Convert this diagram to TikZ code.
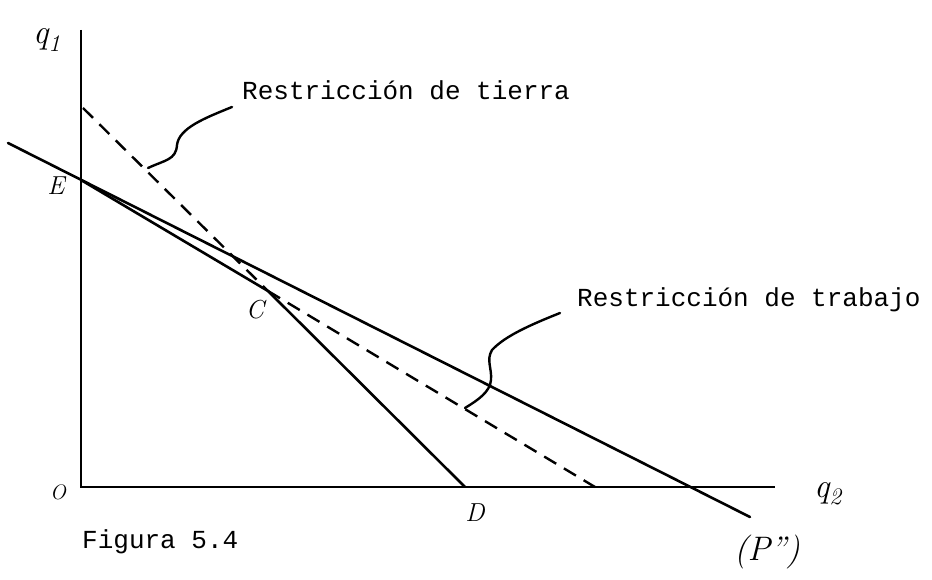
\documentclass[tikz,border=0pt]{standalone}
\usepackage{fontspec}
\newfontfamily\typew{Liberation Mono}
\usetikzlibrary{positioning, calc}

\begin{document}
\begin{tikzpicture}[
    x=1pt, y=-1pt,
    axis/.style={line width=2pt},
    frontier/.style={line width=2.6pt, line cap=round, line join=round},
    constr/.style={line width=2.4pt, dash pattern=on 14pt off 9pt},
    leader/.style={line width=2.4pt, line cap=round},
    hand/.style={font=\fontsize{26}{26}\selectfont\itshape, inner sep=0pt},
    bighand/.style={font=\fontsize{34}{34}\selectfont\itshape, inner sep=0pt},
    typed/.style={font=\typew\fontsize{26}{28}\selectfont, inner sep=0pt},
]
\useasboundingbox (0,0) rectangle (932,580);

% --- Axes ---------------------------------------------------
\coordinate (O) at (81,487);
\coordinate (ytop) at (81,30);
\coordinate (xend) at (775,487);
\draw[axis] (ytop) -- (O) -- (xend);
\node[bighand] (q1) at (47,40) {q\textsubscript{1}};
\node[bighand] (q2) at (828,494) {q\textsubscript{2}};
\node[hand, font=\fontsize{21}{21}\selectfont\itshape] (lO) at (58,492) {O};

% --- Kinked frontier E-C-D ----------------------------------
\coordinate (E) at (81,180);
\coordinate (C) at (268,291);
\coordinate (D) at (465,487);
\draw[frontier] (E) -- (C) -- (D);
\node[hand] (lE) at (56,186) {E};
\node[hand] (lC) at (255,310) {C};
\node[hand] (lD) at (475,513) {D};

% --- Dashed parts of the two constraints --------------------
\coordinate (land0) at (83,108);
\coordinate (lab1) at (595,487);
\draw[constr] (land0) -- (C);
\draw[constr] (C) -- (lab1);

% --- Line P'' -----------------------------------------------
\coordinate (p0) at (8,143);
\coordinate (p1) at (750,517);
\draw[frontier] (p0) -- (p1);
\node[bighand] (lP) at (767,552) {(P'')};

% --- Labels and leaders -------------------------------------
\node[typed, anchor=west] (tierra) at (242,90) {Restricción de tierra};
\node[typed, anchor=west] (trabajo) at (577,300) {Restricción de trabajo};
\node[typed, anchor=west] (fig) at (82,542) {Figura 5.4};

\coordinate (t0) at (148,168);
\coordinate (t1) at (232,107);
\draw[leader] (t0) .. controls (165,160) and (176,160) .. (177,145)
    .. controls (179,128) and (205,118) .. (t1);

\coordinate (w0) at (465,408);
\coordinate (w1) at (560,313);
\draw[leader] (w0) .. controls (478,400) and (490,392) .. (491,380)
    .. controls (492,368) and (486,360) .. (492,350)
    .. controls (505,336) and (530,325) .. (w1);

\end{tikzpicture}
\end{document}
